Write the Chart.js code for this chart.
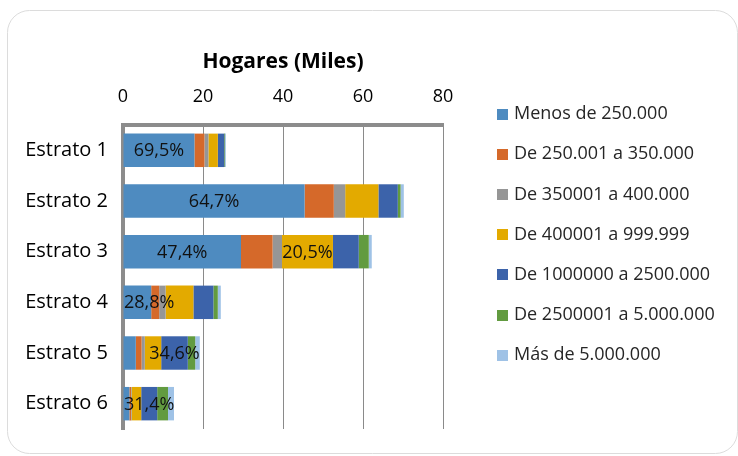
<!DOCTYPE html>
<html>
<head>
<meta charset="utf-8">
<script src="https://cdn.jsdelivr.net/npm/chart.js@4/dist/chart.umd.min.js"></script>
<style>
  html, body { margin: 0; padding: 0; background: #ffffff; }
  #wrap { position: relative; width: 738px; height: 456px; }
</style>
</head>
<body>
<div id="wrap"><canvas id="c" width="738" height="456"></canvas></div>
<script>
// Households by stratum (thousands), split by income bracket
const categories = ['Estrato 1', 'Estrato 2', 'Estrato 3', 'Estrato 4', 'Estrato 5', 'Estrato 6'];
const seriesNames = [
  'Menos de 250.000',
  'De 250.001 a 350.000',
  'De 350001 a 400.000',
  'De 400001 a 999.999',
  'De 1000000 a 2500.000',
  'De 2500001 a 5.000.000',
  'Más de 5.000.000'
];
const menos250 = [17.86, 45.4, 29.5, 7.05, 3.2, 1.6];
const de250a350 = [2.5, 7.3, 7.9, 2.0, 1.45, 0.4];
const de350a400 = [1.0, 2.85, 2.35, 1.6, 0.8, 0.15];
const de400a999 = [2.35, 8.3, 12.74, 6.95, 4.1, 2.4];
const de1ma2500 = [1.6, 4.85, 6.45, 5.0, 6.65, 4.0];
const de2500a5m = [0.2, 0.7, 2.5, 1.1, 1.85, 2.7];
const mas5m = [0.2, 0.8, 0.75, 0.75, 1.15, 1.5];
const xTicks = [0, 20, 40, 60, 80];
// which segments of each stratum carry a share-of-total label
const pctLabels = [[0], [0], [0, 3], [0], [4], [4]];

const seriesValues = [menos250, de250a350, de350a400, de400a999, de1ma2500, de2500a5m, mas5m];
const colors = ['#4e8bc0', '#d5692a', '#969696', '#e3aa00', '#3c63aa', '#629b40', '#9fc2e6'];
const FONT = "'Open Sans', 'Noto Sans', sans-serif";

const cardPlugin = {
  id: 'card',
  beforeDraw(chart) {
    const ctx = chart.ctx;
    ctx.save();
    ctx.fillStyle = '#ffffff';
    ctx.fillRect(0, 0, chart.width, chart.height);
    ctx.beginPath();
    ctx.roundRect(7.5, 10.5, 730, 443, 22);
    ctx.strokeStyle = '#dcdcdc';
    ctx.lineWidth = 1;
    ctx.stroke();
    ctx.restore();
  }
};

const pctLabelPlugin = {
  id: 'pctLabels',
  afterDatasetsDraw(chart) {
    const ctx = chart.ctx;
    const area = chart.chartArea;
    ctx.save();
    ctx.font = '18px ' + FONT;
    ctx.fillStyle = '#111111';
    ctx.textBaseline = 'middle';
    ctx.textAlign = 'left';
    pctLabels.forEach((list, ci) => {
      const total = seriesValues.reduce((s, arr) => s + arr[ci], 0);
      list.forEach(si => {
        const v = seriesValues[si][ci];
        const txt = (v / total * 100).toFixed(1).replace('.', ',') + '%';
        const el = chart.getDatasetMeta(si).data[ci];
        const cx = (el.x + el.base) / 2;
        const w = ctx.measureText(txt).width;
        let left = cx - w / 2;
        if (left < area.left + 1) left = area.left + 1;
        ctx.fillText(txt, left, el.y + 1);
      });
    });
    ctx.restore();
  }
};

const legendPlugin = {
  id: 'sideLegend',
  afterDraw(chart) {
    const ctx = chart.ctx;
    ctx.save();
    ctx.font = '18px ' + FONT;
    ctx.textBaseline = 'middle';
    ctx.textAlign = 'left';
    chart.data.datasets.forEach((ds, i) => {
      const y = 114 + i * 40.2;
      ctx.fillStyle = ds.backgroundColor;
      ctx.fillRect(497, Math.round(y - 5.5), 11, 11);
      ctx.fillStyle = '#262626';
      ctx.fillText(ds.label, 514, y);
    });
    ctx.restore();
  }
};

new Chart(document.getElementById('c'), {
  type: 'bar',
  data: {
    labels: categories,
    datasets: seriesNames.map((name, i) => ({
      label: name,
      data: seriesValues[i],
      backgroundColor: colors[i],
      borderWidth: 0,
      categoryPercentage: 1,
      barPercentage: 0.66
    }))
  },
  options: {
    indexAxis: 'y',
    responsive: false,
    animation: false,
    devicePixelRatio: 1,
    layout: { padding: { left: 0, top: 0, right: 295, bottom: 22 } },
    plugins: { legend: { display: false }, tooltip: { enabled: false }, title: { display: false } },
    scales: {
      x: {
        position: 'top',
        stacked: true,
        min: 0,
        max: 80,
        afterBuildTicks: s => { s.ticks = xTicks.map(v => ({ value: v })); },
        afterFit: s => { s.height = 125; },
        ticks: { font: { size: 18, family: FONT }, color: '#000000', padding: 17 },
        grid: {
          drawTicks: false,
          color: c => (c.tick && c.tick.value === 0 ? 'rgba(0,0,0,0)' : '#8a8a8a'),
          lineWidth: 1
        },
        border: { display: true, color: '#8c8c8c', width: 4 },
        title: {
          display: true,
          text: 'Hogares (Miles)',
          font: { size: 21, weight: 'bold', family: FONT },
          color: '#000000',
          padding: { top: 49, bottom: 0 }
        }
      },
      y: {
        stacked: true,
        z: 1,
        afterFit: s => { s.width = 123; },
        ticks: { font: { size: 20, family: FONT }, color: '#000000', padding: 15 },
        grid: { display: false, drawTicks: false },
        border: { display: true, color: '#8c8c8c', width: 4 }
      }
    }
  },
  plugins: [cardPlugin, pctLabelPlugin, legendPlugin]
});
</script>
</body>
</html>
